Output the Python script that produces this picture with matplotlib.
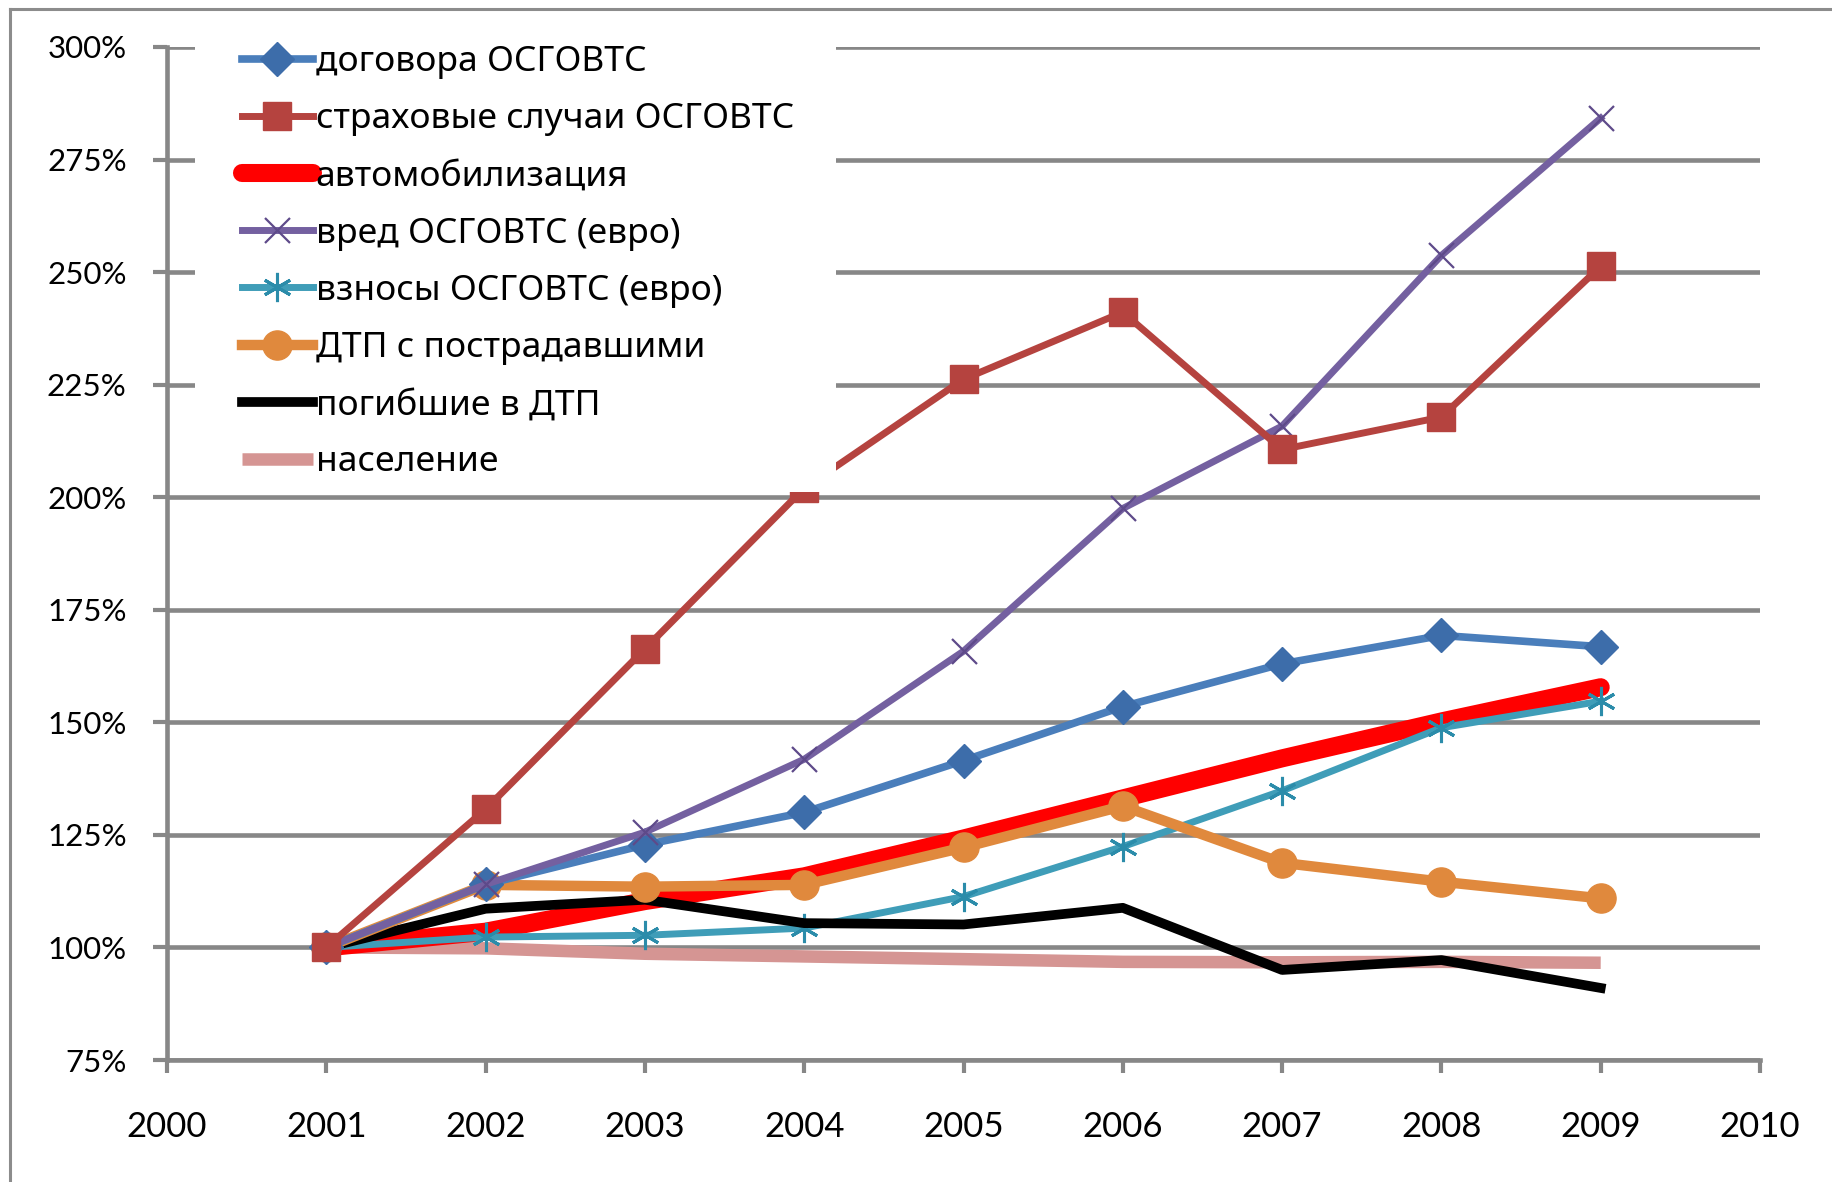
import matplotlib
matplotlib.use("Agg")
import matplotlib.pyplot as plt
from matplotlib.patches import Rectangle
from matplotlib.lines import Line2D
from matplotlib.ticker import FuncFormatter
from matplotlib.font_manager import FontProperties

plt.rcParams['font.family'] = ['Lato', 'DejaVu Sans']

years = [2001, 2002, 2003, 2004, 2005, 2006, 2007, 2008, 2009]
dogovora = [100, 114, 122.8, 130, 141.5, 153.5, 163, 169.3, 166.8]
strah_sluchai = [100, 130.7, 166.3, 202, 226.2, 241.1, 210.6, 217.8, 251.3]
avtomob = [100, 103.5, 110.3, 115.8, 124.2, 133.1, 142, 150.2, 157.8]
vred = [100, 114, 125.6, 141.8, 165.8, 197.5, 215.8, 253.7, 284.2]
vznosy = [100, 102.3, 102.7, 104.3, 111.3, 122.4, 134.8, 148.8, 154.7]
dtp = [100, 113.9, 113.5, 113.9, 122.2, 131.4, 118.8, 114.6, 110.9]
pogibshie = [100, 108.6, 110.6, 105.4, 105.1, 108.8, 95.0, 97.2, 91.0]
naselenie = [100, 99.8, 98.6, 98.0, 97.4, 96.8, 96.7, 96.8, 96.6]

labels = ["договора ОСГОВТС", "страховые случаи ОСГОВТС", "автомобилизация",
          "вред ОСГОВТС (евро)", "взносы ОСГОВТС (евро)", "ДТП с пострадавшими",
          "погибшие в ДТП", "население"]
y_ticks = [75, 100, 125, 150, 175, 200, 225, 250, 275, 300]
x_ticks = list(range(2000, 2011))

fig = plt.figure(figsize=(18.33, 11.82), dpi=100)
ax = fig.add_axes([167/1833, 1-1060/1182, (1760-167)/1833, (1060-47)/1182])

grid_c = '#878787'
ax.plot(years, naselenie, color='#D59593', lw=9, solid_capstyle='butt', zorder=3, label=labels[7])
ax.plot(years, avtomob, color='#FF0000', lw=13, solid_capstyle='round', zorder=3.1, label=labels[2])
ax.plot(years, vznosy, color='#3F9DB8', lw=5, marker=(6, 2, 0), ms=21, mew=2.2,
        mec='#2B8CAA', zorder=3.2, label=labels[4])
ax.plot(years, pogibshie, color='#000000', lw=7, zorder=3.4, label=labels[6])
ax.plot(years, dtp, color='#E0893D', lw=7.5, marker='o', ms=21, mfc='#E0893D', mec='#E0893D',
        zorder=3.5, label=labels[5])
ax.plot(years, dogovora, color='#4A7EBB', lw=5.5, marker='D', ms=17, mfc='#3D6DAA', mec='#3D6DAA',
        zorder=3.6, label=labels[0])
ax.plot(years, vred, color='#7460A0', lw=5, marker='x', ms=18, mew=1.6, mec='#5E4A8A',
        zorder=3.7, label=labels[3])
ax.plot(years, strah_sluchai, color='#B5433F', lw=5, marker='s', ms=20, mfc='#B5433F', mec='#B5433F',
        zorder=3.8, label=labels[1])

ax.set_xlim(2000, 2010)
ax.set_ylim(75, 300)
ax.set_xticks(x_ticks)
ax.set_yticks(y_ticks)
ax.yaxis.set_major_formatter(FuncFormatter(lambda v, p: f"{int(round(v))}%"))
ax.grid(axis='y', color=grid_c, lw=3.3, zorder=1)
ax.set_axisbelow(True)
for s in ['top', 'right']:
    ax.spines[s].set_visible(False)
for s in ['left', 'bottom']:
    ax.spines[s].set_color(grid_c)
    ax.spines[s].set_linewidth(3.3)
ax.tick_params(axis='y', length=10, width=3, color=grid_c, pad=19, labelsize=22.5)
ax.tick_params(axis='x', length=9, width=3, color=grid_c, pad=28, labelsize=25)

# white legend background (hides gridlines and lines behind legend)
rect = Rectangle((195/1833, 1-492/1182), 641/1833, 467/1182, transform=fig.transFigure,
                 facecolor='white', edgecolor='none', zorder=4.5, clip_on=False)
ax.add_artist(rect)

hs, ls = ax.get_legend_handles_labels()
d = dict(zip(ls, hs))
leg = ax.legend([d[l] for l in labels], labels, loc='upper left',
                bbox_to_anchor=(242/1833, 1-45/1182), bbox_transform=fig.transFigure,
                frameon=False, prop=FontProperties(family=['Noto Sans', 'DejaVu Sans'], size=25.5),
                handlelength=2.0, handletextpad=0.08,
                labelspacing=0.655, borderpad=0, borderaxespad=0, markerscale=1.0)
leg.set_zorder(6)

# outer frame (left and top)
fig.add_artist(Line2D([10/1833, 10/1833], [0, 1-9/1182], transform=fig.transFigure,
                      color='#8C8C8C', lw=2.2))
fig.add_artist(Line2D([10/1833, 1], [1-9/1182, 1-9/1182], transform=fig.transFigure,
                      color='#8C8C8C', lw=2.2))

fig.savefig("out.png", dpi=100)
